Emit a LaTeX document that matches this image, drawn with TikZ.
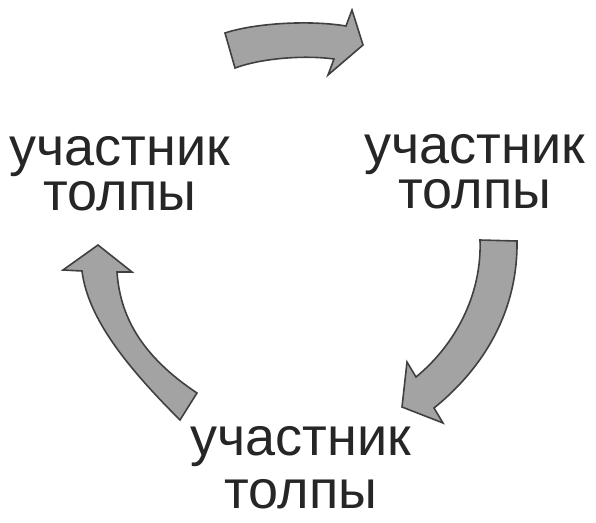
\documentclass[tikz,border=0pt]{standalone}
\usepackage{fontspec}
\setmainfont{Liberation Sans}
\usetikzlibrary{positioning}

\tikzset{
	member/.style={font=\fontsize{54}{45}\selectfont, text=black!85, align=center, inner sep=0pt, anchor=base},
	blockarrow/.style={fill=black!36, draw=black!75, line width=1.6pt, line join=miter}
}

\begin{document}
\begin{tikzpicture}
			[x=1pt,y=-1pt]
			\useasboundingbox (0,0) rectangle (596,522);
			\node[member] (left) at (120,210) {участник\\толпы};
			\node[member] (right) at (475,208) {участник\\толпы};
			\node[member] (bottom) at (301,508) {участник\\[8pt]толпы};
			
			% top arrow, left -> right
			\draw[blockarrow] (225,33) .. controls (255,23) and (310,20) .. (346,26) -- (352,10) -- (363,45) -- (328,75) -- (334,59) .. controls (305,55) and (262,58) .. (235,68) -- cycle;
			% right arrow, right -> bottom
			\draw[blockarrow] (480,240) -- (517,241) .. controls (518,320) and (475,375) .. (434,408) -- (443,423) -- (402,407) -- (407,362) -- (416,377) .. controls (455,345) and (482,295) .. (480,240) -- cycle;
			% left arrow, bottom -> left
			\draw[blockarrow] (197,393) -- (180,420) .. controls (130,370) and (88,320) .. (82,271) -- (63,270) -- (98,245) -- (132,272) -- (117,272) .. controls (120,315) and (140,355) .. (197,393) -- cycle;
			\end{tikzpicture}
\end{document}
